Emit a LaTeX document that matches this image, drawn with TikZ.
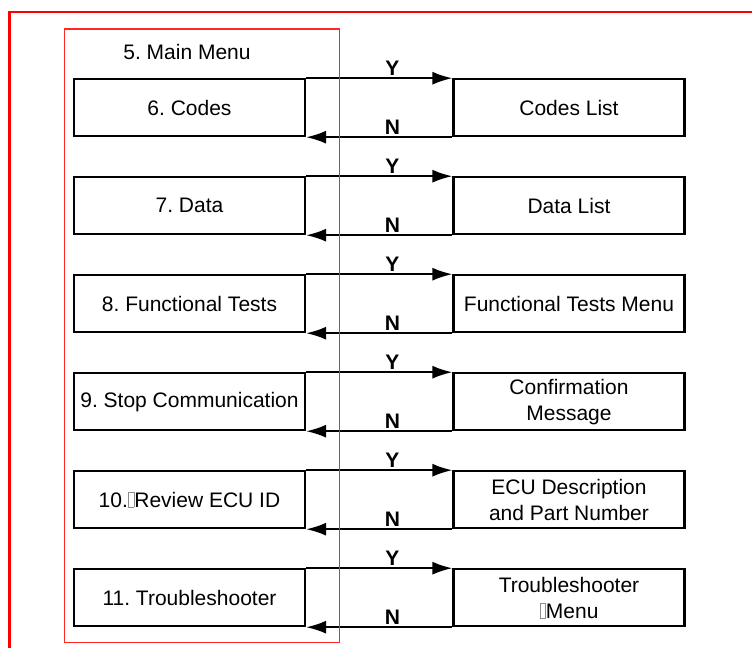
\documentclass[tikz,border=0pt]{standalone}
\usepackage{fontspec}
\setmainfont{Liberation Sans}
\frenchspacing
\usepackage{tikz}
\usetikzlibrary{arrows.meta,positioning}
\tikzset{>={Latex[length=10pt,width=6.5pt]}}

\tikzset{
  menutext/.style={font=\fontsize{10.5}{13}\selectfont},
  menubox/.style={menutext, draw, line width=1.1pt, minimum width=115.5pt, minimum height=28.4pt, inner sep=0pt, align=center},
  yesno/.style={font=\fontsize{10.5}{13}\selectfont\bfseries, inner sep=0.8pt},
  flow/.style={->, line width=1pt},
}
% glyph the source font did not have
\newcommand{\nochar}{{\color{black!45}\setlength{\fboxsep}{0pt}\setlength{\fboxrule}{0.3pt}\fbox{\rule{0pt}{0.68em}\hspace{0.25em}}}}

\begin{document}
\begin{tikzpicture}[x=0.5pt, y=-0.5pt, node distance=19.5pt and 73.15pt]
                \clip (0,0) rectangle (752,648);

                \node[menutext] (mainmenu) at (187,52) {5. Main Menu};

                % menu items
                \node[menubox] (codes) at (189.5,107.7) {6. Codes};
                \node[menubox, below=of codes] (data) {7. Data};
                \node[menubox, below=of data] (functests) {8. Functional Tests};
                \node[menubox, below=of functests] (stopcomm) {9. Stop Communication};
                \node[menubox, below=of stopcomm] (ecuid) {10.\nochar Review ECU ID};
                \node[menubox, below=of ecuid] (troubleshooter) {11. Troubleshooter};

                % screens
                \node[menubox, right=of codes] (codeslist) {Codes List};
                \node[menubox, right=of data] (datalist) {Data List};
                \node[menubox, right=of functests] (testsmenu) {Functional Tests Menu};
                \node[menubox, right=of stopcomm] (confirm) {Confirmation\\Message};
                \node[menubox, right=of ecuid] (ecudesc) {ECU Description\\and Part Number};
                \node[menubox, right=of troubleshooter] (troublemenu) {Troubleshooter\\\nochar Menu};

                \draw[flow] (codes.north east) -- node[yesno, pos=0.59, above] {Y} (codeslist.north west);
                \draw[flow] (codeslist.south west) -- node[yesno, pos=0.41, above] {N} (codes.south east);

                \draw[flow] (data.north east) -- node[yesno, pos=0.59, above] {Y} (datalist.north west);
                \draw[flow] (datalist.south west) -- node[yesno, pos=0.41, above] {N} (data.south east);

                \draw[flow] (functests.north east) -- node[yesno, pos=0.59, above] {Y} (testsmenu.north west);
                \draw[flow] (testsmenu.south west) -- node[yesno, pos=0.41, above] {N} (functests.south east);

                \draw[flow] (stopcomm.north east) -- node[yesno, pos=0.59, above] {Y} (confirm.north west);
                \draw[flow] (confirm.south west) -- node[yesno, pos=0.41, above] {N} (stopcomm.south east);

                \draw[flow] (ecuid.north east) -- node[yesno, pos=0.59, above] {Y} (ecudesc.north west);
                \draw[flow] (ecudesc.south west) -- node[yesno, pos=0.41, above] {N} (ecuid.south east);

                \draw[flow] (troubleshooter.north east) -- node[yesno, pos=0.59, above] {Y} (troublemenu.north west);
                \draw[flow] (troublemenu.south west) -- node[yesno, pos=0.41, above] {N} (troubleshooter.south east);

                % frames
                \draw[red!85!white, line width=0.5pt] (64,29) rectangle (339,642);
                \draw[red, line width=1.1pt] (9.5,660) -- (9.5,12) -- (760,12);

            \end{tikzpicture}
\end{document}
